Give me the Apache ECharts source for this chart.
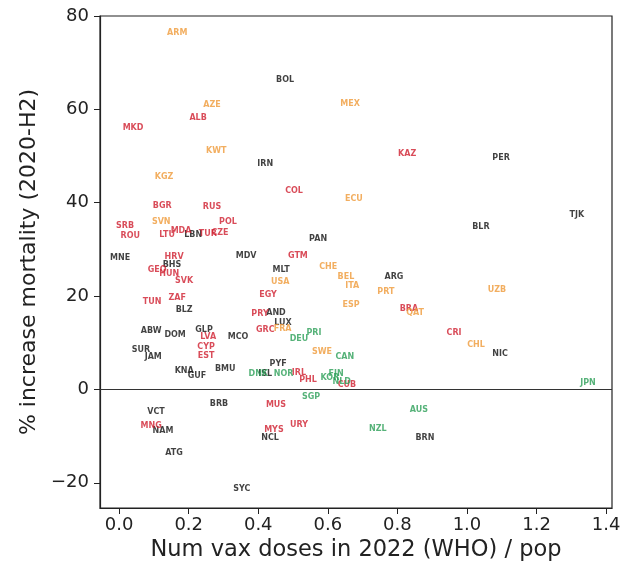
<!DOCTYPE html>
<html>
<head>
<meta charset="utf-8">
<script src="https://cdn.jsdelivr.net/npm/echarts@6/dist/echarts.min.js"></script>
<style>
html,body{margin:0;padding:0;background:#fff;}
#c{width:630px;height:567px;}
</style>
</head>
<body>
<div id="c"></div>
<script>
// ---- data ----
const xTicks = [0.0, 0.2, 0.4, 0.6, 0.8, 1.0, 1.2, 1.4];
const yTicks = [-20, 0, 20, 40, 60, 80];

const blackCodes = ['BOL','PER','IRN','TJK','BLR','LBN','PAN','MNE','MDV','BHS','MLT','ARG','BLZ','AND','LUX','NIC','ABW','DOM','GLP','MCO','SUR','JAM','PYF','BMU','KNA','GUF','ISL','BRB','VCT','NAM','BRN','NCL','ATG','SYC'];
const blackX = [0.477,1.098,0.420,1.316,1.040,0.213,0.572,0.003,0.365,0.152,0.466,0.790,0.187,0.451,0.471,1.095,0.092,0.161,0.244,0.342,0.063,0.098,0.457,0.305,0.187,0.224,0.420,0.287,0.106,0.126,0.879,0.434,0.158,0.353];
const blackY = [66.2,49.7,48.4,37.3,34.9,33.2,32.3,28.1,28.5,26.6,25.5,24.0,17.1,16.3,14.3,7.7,12.6,11.6,12.8,11.3,8.4,6.9,5.4,4.3,3.9,3.0,3.3,-3.0,-4.9,-8.8,-10.3,-10.3,-13.7,-21.4];

const redCodes = ['ALB','MKD','KAZ','COL','BGR','RUS','POL','SRB','MDA','LTU','TUR','CZE','ROU','HRV','GTM','GEO','HUN','SVK','EGY','TUN','ZAF','BRA','PRY','GRC','CRI','LVA','CYP','EST','IRL','PHL','CUB','MUS','URY','MNG','MYS'];
const redX = [0.227,0.040,0.828,0.503,0.124,0.267,0.313,0.017,0.178,0.138,0.255,0.290,0.032,0.158,0.514,0.109,0.144,0.187,0.428,0.095,0.167,0.833,0.405,0.420,0.963,0.256,0.250,0.250,0.517,0.543,0.655,0.451,0.517,0.092,0.445];
const redY = [58.2,56.1,50.5,42.6,39.4,39.0,35.8,35.1,34.0,33.2,33.3,33.5,32.8,28.3,28.5,25.5,24.8,23.3,20.2,18.8,19.5,17.3,16.1,12.8,12.0,11.3,9.2,7.1,3.6,2.1,0.9,-3.4,-7.7,-7.9,-8.6];

const orangeCodes = ['ARM','MEX','AZE','KWT','KGZ','ECU','SVN','CHE','USA','BEL','ITA','UZB','PRT','ESP','QAT','FRA','SWE','CHL'];
const orangeX = [0.167,0.664,0.267,0.279,0.129,0.675,0.121,0.601,0.463,0.652,0.670,1.086,0.767,0.667,0.851,0.470,0.583,1.026];
const orangeY = [76.4,61.2,61.0,51.0,45.6,40.9,35.8,26.3,23.1,24.2,22.1,21.4,20.8,18.2,16.3,12.9,8.1,9.6];

const greenCodes = ['PRI','DEU','CAN','DNK','NOR','FIN','KOR','NLD','JPN','SGP','AUS','NZL'];
const greenX = [0.560,0.517,0.649,0.400,0.473,0.624,0.606,0.640,1.348,0.552,0.862,0.744];
const greenY = [12.2,10.9,6.9,3.3,3.3,3.4,2.4,1.6,1.3,-1.7,-4.3,-8.4];

// ---- build series ----
function pts(codes, xs, ys){ return codes.map((c,i)=>({name:c, value:[xs[i], ys[i]]})); }
function labelSeries(codes, xs, ys, color){
  return {
    type:'scatter',
    data: pts(codes, xs, ys),
    symbolSize: 0,
    silent: true,
    label:{
      show:true,
      position:'inside',
      formatter: p => p.name,
      color: color,
      fontFamily:'DejaVu Sans',
      fontSize: 8,
      fontWeight: 'bold'
    },
    labelLayout:{hideOverlap:false}
  };
}

const chart = echarts.init(document.getElementById('c'), null, {renderer:'canvas'});
const series = [
  labelSeries(blackCodes, blackX, blackY, '#111111'),
  labelSeries(redCodes, redX, redY, '#d01f30'),
  labelSeries(orangeCodes, orangeX, orangeY, '#ef9a38'),
  labelSeries(greenCodes, greenX, greenY, '#2c9f58')
];
series[0].markLine = {
  silent:true,
  symbol:'none',
  label:{show:false},
  lineStyle:{color:'#333', width:1, type:'solid'},
  data:[{yAxis:0}]
};

chart.setOption({
  animation:false,
  backgroundColor:'#fff',
  grid:{left:100, right:18, top:16, bottom:59, show:true, borderColor:'#222', borderWidth:1.2, backgroundColor:'transparent'},
  xAxis:{
    type:'value', min:-0.055, max:1.417,
    name:'Num vax doses in 2022 (WHO) / pop',
    nameLocation:'middle', nameGap:31,
    nameTextStyle:{fontFamily:'DejaVu Sans', fontSize:22.5, color:'#222'},
    axisLine:{show:true, onZero:false, lineStyle:{color:'#222', width:1.2}},
    axisTick:{show:true, length:6, inside:false, customValues:xTicks, lineStyle:{color:'#222'}},
    axisLabel:{customValues:xTicks, formatter:v=>Number(v).toFixed(1), fontFamily:'DejaVu Sans', fontSize:18, color:'#222', margin:8},
    splitLine:{show:false}
  },
  yAxis:{
    type:'value', min:-25.4, max:80,
    name:'% increase mortality (2020-H2)',
    nameLocation:'middle', nameGap:56,
    nameTextStyle:{fontFamily:'DejaVu Sans', fontSize:22, color:'#222'},
    axisLine:{show:true, onZero:false, lineStyle:{color:'#222', width:1.2}},
    axisTick:{show:true, length:6, inside:false, customValues:yTicks, lineStyle:{color:'#222'}},
    axisLabel:{customValues:yTicks, formatter:v=>String(v).replace('-','\u2212'), fontFamily:'DejaVu Sans', fontSize:18, color:'#222', margin:11},
    splitLine:{show:false}
  },
  series: series
});
</script>
</body>
</html>
